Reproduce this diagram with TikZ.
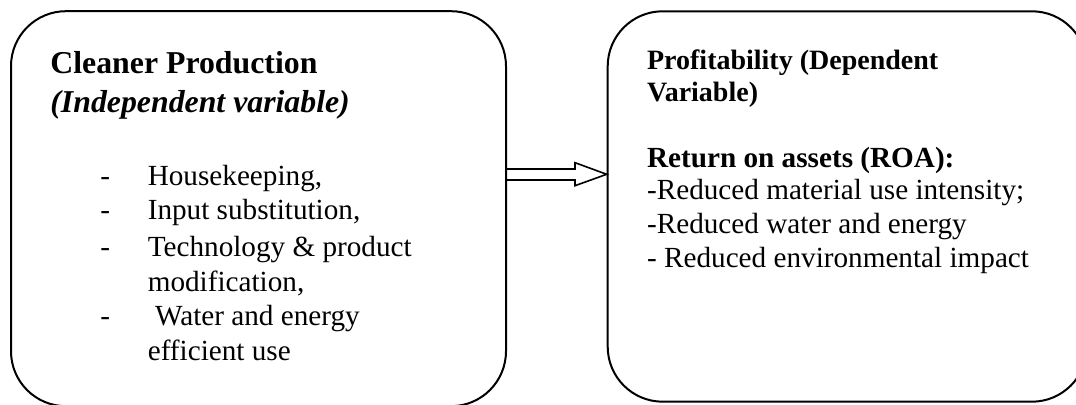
\documentclass[tikz,border=0pt]{standalone}
\usepackage{fontspec}
\setmainfont{Liberation Serif}
\usetikzlibrary{positioning}

\begin{document}
\begin{tikzpicture}[x=0.5pt,y=-0.5pt,
    box/.style={draw,line width=1pt,rounded corners=27.5pt,inner sep=0pt},
    head/.style={anchor=base west,inner sep=0pt,font=\fontsize{15.9}{19}\selectfont\bfseries},
    head it/.style={anchor=base west,inner sep=0pt,font=\fontsize{15.9}{19}\selectfont\bfseries\itshape},
    subhead/.style={anchor=base west,inner sep=0pt,font=\fontsize{14}{17}\selectfont\bfseries},
    item/.style={anchor=base west,inner sep=0pt,font=\fontsize{14.6}{17.5}\selectfont},
    item bold/.style={item,font=\fontsize{14.6}{17.5}\selectfont\bfseries},
    arrowline/.style={line width=0.8pt,line join=miter}]
  \useasboundingbox (0,0) rectangle (1076,405);
  % the two boxes
  \node[box,minimum width=247.5pt,minimum height=197.5pt] (cp) at (258.5,208.7) {};
  \node[box,minimum width=239.6pt,minimum height=195.2pt] (prof) at (847.3,206.5) {};
  % left box text
  \node[head] (cptitle) at (50,74) {Cleaner Production};
  \node[head it] (cpsub) at (50,113) {(Independent variable)};
  \foreach \yy [count=\i] in {186,220,256.5,326}
    \node[item] (dash\i) at (100,\yy) {-};
  \foreach \yy/\txt [count=\i] in {186/{Housekeeping,},220/{Input substitution,},
      256.5/{Technology \& product},292/{modification,},
      326/{\hspace{0.25em}Water and energy},361/{efficient use}}
    \node[item] (cpitem\i) at (147.4,\yy) {\txt};
  % right box text
  \node[subhead] (proftitle) at (646.7,70) {Profitability (Dependent};
  \node[subhead] (profvar) at (646.7,101.5) {Variable)};
  \node[item bold] (roa) at (646.7,167.5) {Return on assets (ROA):};
  \node[item] (roa1) at (646.7,200) {-Reduced material use intensity;};
  \node[item] (roa2) at (646.7,234) {-Reduced water and energy};
  \node[item] (roa3) at (646.7,268) {- Reduced environmental impact};
  % hollow arrow
  \draw[arrowline] (cp.east |- 0,169) -- (575,169) -- (575,162.7)
    -- (prof.west |- 0,174.3) -- (575,185.7) -- (575,180) -- (cp.east |- 0,180);
\end{tikzpicture}
\end{document}
